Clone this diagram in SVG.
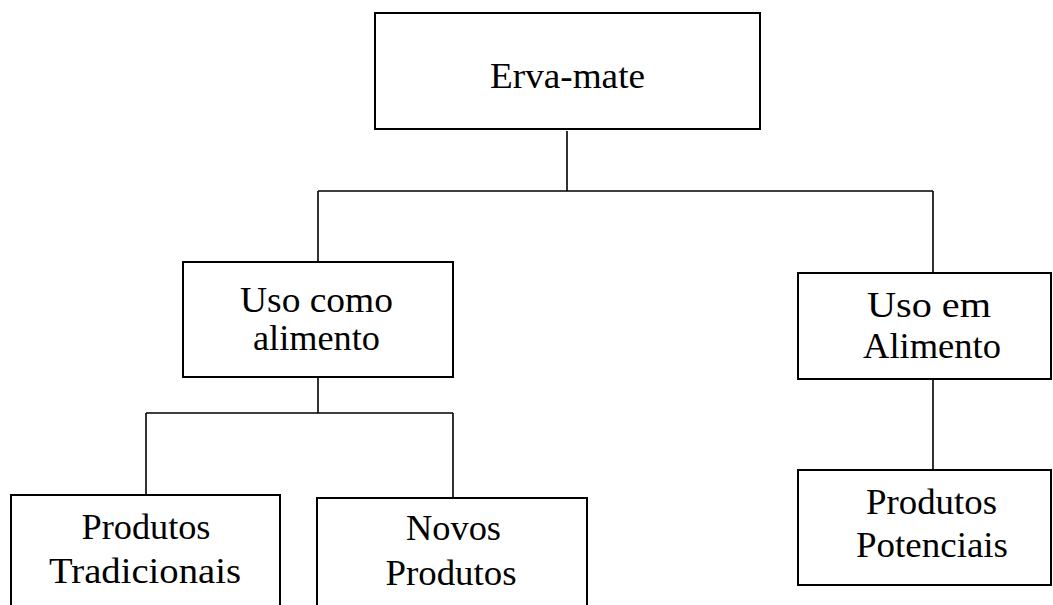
<svg xmlns="http://www.w3.org/2000/svg" width="1053" height="605" viewBox="0 0 1053 605">
<style>
.box{fill:#fff;stroke:#000;stroke-width:2}
.ln{fill:none;stroke:#000;stroke-width:1.6}
text{font-family:"Liberation Serif","Times New Roman",Times,serif;font-size:36px;fill:#000;text-anchor:middle}
</style>
<rect width="1053" height="605" fill="#fff"/>
<g id="connectors">
<path class="ln" d="M567,131V191M318,191H933M318,191V262M933,191V273M318,377V413M146,413H453M146,413V494M453,413V497M933,379V470"/>
</g>
<g id="erva-mate">
<rect class="box" x="375" y="13" width="385" height="116"/>
<text x="567.5" y="88" textLength="155" lengthAdjust="spacingAndGlyphs">Erva-mate</text>
</g>
<g id="uso-como-alimento">
<rect class="box" x="183" y="262" width="270" height="115"/>
<text x="316.5" y="312" textLength="153" lengthAdjust="spacingAndGlyphs">Uso como</text>
<text x="316.5" y="350" textLength="127" lengthAdjust="spacingAndGlyphs">alimento</text>
</g>
<g id="uso-em-alimento">
<rect class="box" x="798" y="273" width="253" height="106"/>
<text x="929" y="317" textLength="124" lengthAdjust="spacingAndGlyphs">Uso em</text>
<text x="932" y="358" textLength="138" lengthAdjust="spacingAndGlyphs">Alimento</text>
</g>
<g id="produtos-tradicionais">
<rect class="box" x="11" y="495" width="269" height="120"/>
<text x="146" y="539" textLength="129" lengthAdjust="spacingAndGlyphs">Produtos</text>
<text x="145" y="583" textLength="192" lengthAdjust="spacingAndGlyphs">Tradicionais</text>
</g>
<g id="novos-produtos">
<rect class="box" x="317" y="498" width="270" height="117"/>
<text x="453.5" y="540" textLength="95" lengthAdjust="spacingAndGlyphs">Novos</text>
<text x="451" y="585" textLength="131" lengthAdjust="spacingAndGlyphs">Produtos</text>
</g>
<g id="produtos-potenciais">
<rect class="box" x="798" y="470" width="253" height="115"/>
<text x="931.5" y="514" textLength="131" lengthAdjust="spacingAndGlyphs">Produtos</text>
<text x="932" y="557" textLength="152" lengthAdjust="spacingAndGlyphs">Potenciais</text>
</g>
</svg>
